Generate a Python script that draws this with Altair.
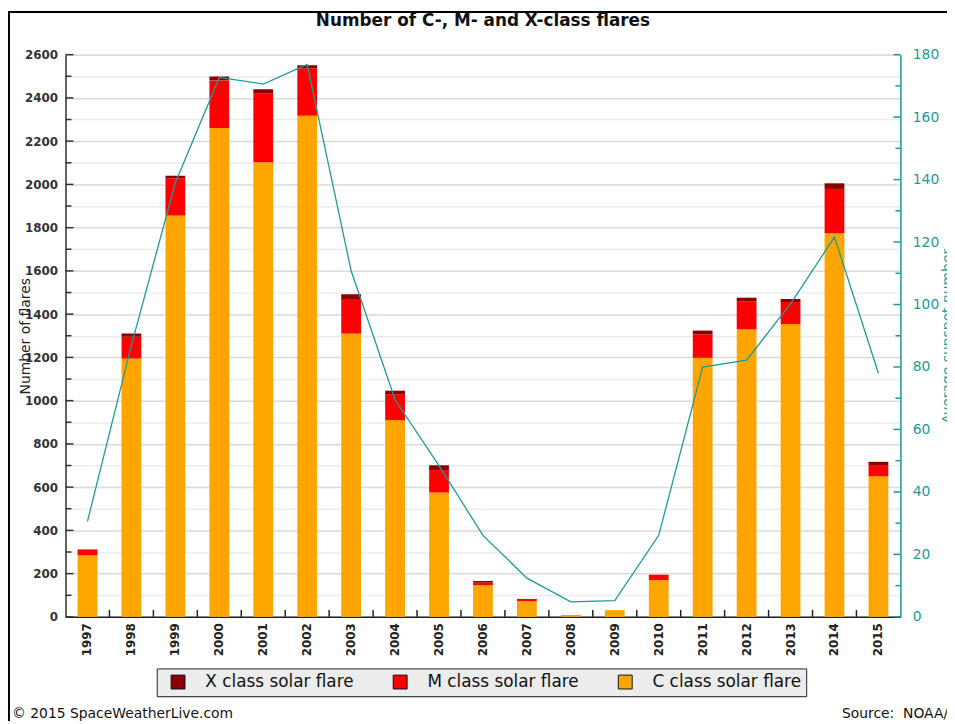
import altair as alt
import pandas as pd

# ---------------- data ----------------
years = list(range(1997, 2016))
c_flares = [285, 1195, 1856, 2261, 2102, 2317, 1310, 910, 575, 146, 72, 8, 31, 170, 1198, 1330, 1354, 1774, 650]
m_flares = [24, 100, 172, 220, 318, 220, 160, 120, 104, 12, 11, 1, 0, 25, 108, 130, 102, 205, 52]
x_flares = [3, 16, 12, 18, 20, 14, 22, 16, 22, 8, 0, 0, 0, 0, 18, 16, 14, 26, 15]
sunspots = [30.6, 87, 139, 172.7, 170.6, 176.9, 110.8, 69.5, 48.4, 26.1, 12.4, 4.8, 5.2, 26.1, 80, 82.2, 100.2, 121.6, 78]

class_names = ["X class solar flare", "M class solar flare", "C class solar flare"]
class_colors = ["#8b0000", "#ff0000", "#ffa500"]

left_major_ticks = list(range(0, 2601, 200))
left_minor_ticks = list(range(100, 2600, 200))
left_grid_values = list(range(0, 2601, 100))
right_major_ticks = list(range(0, 181, 20))
right_minor_ticks = list(range(10, 180, 20))

W, H = 842, 567
TEAL = "#1f9a9a"

rows = []
for i, y in enumerate(years):
    rows.append({"year": str(y), "cls": class_names[2], "count": c_flares[i], "ord": 0})
    rows.append({"year": str(y), "cls": class_names[1], "count": m_flares[i], "ord": 1})
    rows.append({"year": str(y), "cls": class_names[0], "count": x_flares[i], "ord": 2})
bars_df = pd.DataFrame(rows)
line_df = pd.DataFrame({"year": [str(y) for y in years], "ssn": sunspots})
one = pd.DataFrame({"a": [0]})

xscale = alt.Scale(paddingInner=0, paddingOuter=0, domain=[str(y) for y in years])
lscale = alt.Scale(domain=[0, 2600], nice=False, zero=True)
rscale = alt.Scale(domain=[0, 180], nice=False, zero=True)

x_axis = alt.Axis(
    title=None, labelAngle=270, labelFont="DejaVu Sans", labelFontWeight="bold",
    labelFontSize=12, labelColor="#222", labelPadding=6, ticks=False,
    domainColor="#222", domainWidth=1.5, grid=False,
)
left_axis = alt.Axis(
    title="Number of flares", values=left_grid_values, format="d",
    labelExpr="datum.value % 200 == 0 ? datum.label : ''",
    labelFont="DejaVu Sans", labelFontWeight="bold", labelFontSize=12,
    labelColor="#333", labelPadding=8, ticks=False,
    domainColor="#333", domainWidth=1.5,
    grid=True,
    gridColor={"condition": {"test": "datum.value % 200 === 0", "value": "#dadada"}, "value": "#ececec"},
    gridWidth=1.5,
    titleFont="DejaVu Sans", titleFontSize=14, titleFontWeight="normal", titleColor="#222",
    titleAngle=270, titleX=-36, titleY=H / 2, titleAlign="center", titleBaseline="alphabetic",
)
right_axis = alt.Axis(
    orient="right", title="Average sunspot number", values=right_major_ticks,
    labelFont="DejaVu Sans", labelFontSize=14, labelColor=TEAL, labelPadding=12,
    ticks=False, domainColor=TEAL, domainWidth=1.5, grid=False,
    titleFont="DejaVu Sans", titleFontSize=14, titleFontWeight="normal", titleColor=TEAL,
    titleAngle=270, titleX=52, titleY=H / 2, titleAlign="center", titleBaseline="alphabetic",
)

# legend shadow
shadow = alt.Chart(one).mark_rect(color="#a8a8a8", opacity=0.7).encode(
    x=alt.value(96), x2=alt.value(744), y=alt.value(622), y2=alt.value(648)
)

bars = alt.Chart(bars_df).mark_bar(width=alt.RelativeBandSize(0.45)).encode(
    x=alt.X("year:O", scale=xscale, axis=x_axis, sort=None),
    y=alt.Y("count:Q", stack="zero", scale=lscale, axis=left_axis),
    color=alt.Color(
        "cls:N",
        scale=alt.Scale(domain=class_names, range=class_colors),
        legend=alt.Legend(
            orient="none", legendX=92, legendY=619, direction="horizontal", title=None,
            fillColor="#ececec", strokeColor="#222", padding=5,
            symbolType="square", symbolSize=196, symbolStrokeColor="#111",
            symbolStrokeWidth=1, symbolOpacity=1, labelFont="DejaVu Sans",
            labelFontSize=17, labelColor="#111", columnPadding=30, labelOffset=19,
            symbolOffset=8,
        ),
    ),
    order=alt.Order("ord:Q"),
)

lmaj = alt.Chart(pd.DataFrame({"v": left_major_ticks})).mark_rule(color="#333", strokeWidth=1.5).encode(
    y=alt.Y("v:Q", scale=lscale, axis=left_axis), x=alt.value(0), x2=alt.value(8)
)
lmin = alt.Chart(pd.DataFrame({"v": left_minor_ticks})).mark_rule(color="#333", strokeWidth=1.5).encode(
    y=alt.Y("v:Q", scale=lscale, axis=left_axis), x=alt.value(0), x2=alt.value(6)
)
xt = alt.Chart(pd.DataFrame({"year": [str(y) for y in years[1:]]})).mark_rule(color="#222", strokeWidth=1.5).encode(
    x=alt.X("year:O", scale=xscale, axis=x_axis, bandPosition=0, sort=None),
    y=alt.value(H - 7), y2=alt.value(H),
)

frame_left = alt.Chart(one).mark_rule(color="#000", strokeWidth=2).encode(
    x=alt.value(-57), y=alt.value(-44), y2=alt.value(672)
)
frame_top = alt.Chart(one).mark_rule(color="#000", strokeWidth=2).encode(
    x=alt.value(-58), x2=alt.value(889), y=alt.value(-43)
)
footer_l = alt.Chart(one).mark_text(
    align="left", baseline="alphabetic", font="DejaVu Sans", fontSize=14, color="#111"
).encode(x=alt.value(-54), y=alt.value(669), text=alt.value("© 2015 SpaceWeatherLive.com"))
footer_r = alt.Chart(one).mark_text(
    align="left", baseline="alphabetic", font="DejaVu Sans", fontSize=14, color="#111"
).encode(x=alt.value(783), y=alt.value(669), text=alt.value("Source:\u00a0 NOAA/SWPC"))

left_layer = alt.layer(shadow, bars, lmaj, lmin, xt, frame_left, frame_top, footer_l, footer_r)

line = alt.Chart(line_df).mark_line(color=TEAL, strokeWidth=1.3).encode(
    x=alt.X("year:O", scale=xscale, axis=x_axis, sort=None),
    y=alt.Y("ssn:Q", scale=rscale, axis=right_axis),
)
rmaj = alt.Chart(pd.DataFrame({"v": right_major_ticks})).mark_rule(color=TEAL, strokeWidth=1.5).encode(
    y=alt.Y("v:Q", scale=rscale, axis=right_axis), x=alt.value(W - 7), x2=alt.value(W)
)
rmin = alt.Chart(pd.DataFrame({"v": right_minor_ticks})).mark_rule(color=TEAL, strokeWidth=1.5).encode(
    y=alt.Y("v:Q", scale=rscale, axis=right_axis), x=alt.value(W - 5), x2=alt.value(W)
)
right_layer = alt.layer(line, rmaj, rmin)

chart = alt.layer(left_layer, right_layer).resolve_scale(y="independent").properties(
    width=W, height=H,
    autosize=alt.AutoSizeParams(type="none"),
    padding={"left": 58, "top": 44, "right": 47, "bottom": 105},
    title=alt.TitleParams(
        "Number of C-, M- and X-class flares", font="DejaVu Sans", fontSize=17,
        fontWeight="bold", color="#111", anchor="middle", frame="group",
        baseline="alphabetic", offset=0, dy=33,
    ),
).configure_view(stroke=None).configure_legend(strokeWidth=1.5, cornerRadius=0).configure(background="white")

chart.save("out.html", embed_options={"renderer": "svg", "actions": False})
